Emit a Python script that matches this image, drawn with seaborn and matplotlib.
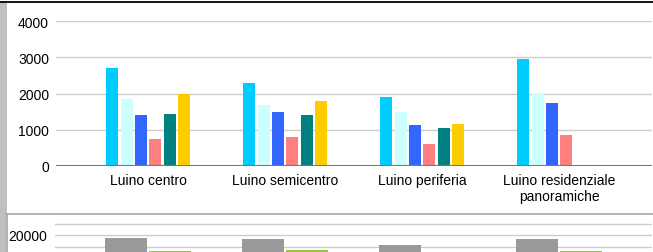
import matplotlib
matplotlib.use("Agg")
import matplotlib.pyplot as plt
from matplotlib.lines import Line2D
from matplotlib.patches import Rectangle
import seaborn as sns
import pandas as pd

# ---------------- data ----------------
categories = ["Luino centro", "Luino semicentro", "Luino periferia",
              "Luino residenziale\npanoramiche"]
series_names = ["Serie 1", "Serie 2", "Serie 3", "Serie 4", "Serie 5", "Serie 6"]
serie1 = [2700, 2300, 1900, 2950]
serie2 = [1850, 1680, 1500, 2000]
serie3 = [1400, 1500, 1130, 1740]
serie4 = [750, 800, 600, 850]
serie5 = [1430, 1400, 1040, None]
serie6 = [2000, 1800, 1160, None]
colors_top = ["#00CCFF", "#CCFFFF", "#3366FF", "#FF8080", "#008080", "#FFCC00"]

lower_series = ["Serie A", "Serie B"]
lower_a = [18600, 18100, 15500, 18100]
lower_b = [13200, 13600, 12600, 13200]
colors_bottom = ["#999999", "#9BC043"]

rows = []
for name, vals in zip(series_names, [serie1, serie2, serie3, serie4, serie5, serie6]):
    for c, v in zip(categories, vals):
        if v is not None:
            rows.append({"cat": c, "serie": name, "val": v})
df_top = pd.DataFrame(rows)

rows = []
for name, vals in zip(lower_series, [lower_a, lower_b]):
    for c, v in zip(categories, vals):
        rows.append({"cat": c, "serie": name, "val": v})
df_bot = pd.DataFrame(rows)

# ---------------- figure ----------------
sns.set_theme(style="white")
plt.rcParams["font.family"] = ["Liberation Sans", "DejaVu Sans"]

W, H = 653, 253
FS = 10
fig = plt.figure(figsize=(W / 100, H / 100), dpi=100)
fig.patch.set_facecolor("white")

def fx(px):
    return px / W

def fy(py):
    return (H - py) / H

xl = ((56 - 148.2) / 137.0, (652 - 148.2) / 137.0)

# top chart
ax = fig.add_axes([fx(56), fy(166.7), fx(652) - fx(56), fy(22.3) - fy(166.7)])
sns.barplot(data=df_top, x="cat", y="val", hue="serie", order=categories,
            hue_order=series_names, palette=colors_top, width=0.63, gap=0.17,
            errorbar=None, legend=False, ax=ax, saturation=1, linewidth=0)
ax.set_xlim(*xl)
ax.set_ylim(0, 4000)
ax.set_yticks([0, 1000, 2000, 3000, 4000])
ax.yaxis.grid(True, color="#CCCCCC", linewidth=1)
ax.set_axisbelow(True)
for s in ax.spines.values():
    s.set_visible(False)
ax.axhline(0, color="#777777", linewidth=1.5, zorder=5)
ax.set_xlabel("")
ax.set_ylabel("")
ax.tick_params(axis="y", length=0, pad=5, labelsize=FS, labelcolor="black")
ax.tick_params(axis="x", length=0, pad=5, labelsize=FS, labelcolor="black")

# bottom chart (partially visible)
ax2 = fig.add_axes([fx(55.5), fy(282.0), fx(652) - fx(55.5), fy(222.2) - fy(282.0)])
sns.barplot(data=df_bot, x="cat", y="val", hue="serie", order=categories,
            hue_order=lower_series, palette=colors_bottom, width=0.646, gap=0.056,
            errorbar=None, legend=False, ax=ax2, saturation=1, linewidth=0)
ax2.set_xlim(*xl)
ax2.set_ylim(0, 26000)
ax2.set_yticks([20000])
ax2.set_yticks([5000, 10000, 15000, 25000], minor=True)
ax2.yaxis.grid(True, which="both", color="#CCCCCC", linewidth=1)
ax2.set_axisbelow(True)
for s in ax2.spines.values():
    s.set_visible(False)
ax2.set_xlabel("")
ax2.set_ylabel("")
ax2.set_xticks([])
ax2.tick_params(axis="y", which="both", length=0, pad=6, labelsize=FS, labelcolor="black")

# frame decorations of the screenshot
fig.add_artist(Rectangle((0, 0), fx(7), fy(3.5), transform=fig.transFigure,
                         facecolor="#C0C0C0", edgecolor="none", zorder=10))
fig.add_artist(Line2D([0, 1], [fy(3), fy(3)], transform=fig.transFigure,
                      color="black", linewidth=1.3, zorder=11))
fig.add_artist(Line2D([fx(6), 1], [fy(214.5), fy(214.5)], transform=fig.transFigure,
                      color="#A8A8A8", linewidth=1.2, zorder=11))
fig.add_artist(Line2D([fx(6.5), fx(6.5)], [0, fy(214.5)], transform=fig.transFigure,
                      color="#A8A8A8", linewidth=1.2, zorder=11))

fig.savefig("out.png", dpi=100, facecolor="white")
